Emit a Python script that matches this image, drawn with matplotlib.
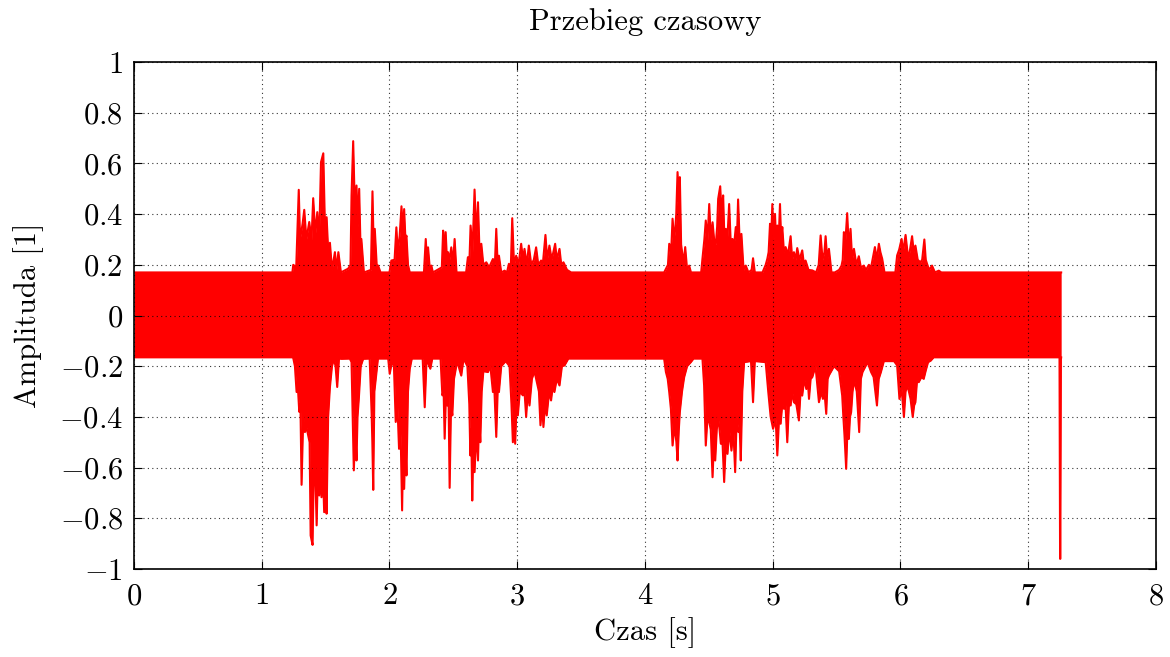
import numpy as np
import matplotlib
matplotlib.use("Agg")
import matplotlib.pyplot as plt
from matplotlib.ticker import FuncFormatter, MultipleLocator

# obwiednia przebiegu (czas [s], amplituda)
tUp = [0.0, 1.24, 1.247, 1.27, 1.29, 1.30, 1.32, 1.333, 1.35, 1.372, 1.39, 1.403, 1.42, 1.435, 1.45,
       1.464, 1.482, 1.495, 1.508, 1.52, 1.534, 1.55, 1.573, 1.585, 1.6, 1.62, 1.677, 1.695, 1.703,
       1.716, 1.73, 1.742, 1.752, 1.763, 1.772, 1.78, 1.80, 1.855, 1.867, 1.877, 1.885, 1.90, 1.911,
       1.93, 2.0, 2.015, 2.04, 2.054, 2.065, 2.08, 2.094, 2.105, 2.115, 2.125, 2.133, 2.145, 2.159,
       2.27, 2.284, 2.293, 2.302, 2.315, 2.328, 2.34, 2.41, 2.42, 2.43, 2.44, 2.45, 2.458, 2.47,
       2.484, 2.497, 2.51, 2.525, 2.60, 2.614, 2.625, 2.635, 2.65, 2.666, 2.68, 2.693, 2.705, 2.719,
       2.735, 2.758, 2.78, 2.81, 2.825, 2.836, 2.847, 2.857, 2.875, 2.901, 2.92, 2.935, 2.95, 2.961,
       2.975, 2.992, 3.01, 3.031, 3.045, 3.057, 3.075, 3.091, 3.11, 3.13, 3.148, 3.165, 3.187, 3.2,
       3.221, 3.235, 3.252, 3.27, 3.297, 3.31, 3.331, 3.345, 3.362, 3.39, 3.422, 4.15, 4.164, 4.18,
       4.19, 4.205, 4.216, 4.228, 4.237, 4.245, 4.255, 4.265, 4.273, 4.283, 4.294, 4.305, 4.315, 4.33,
       4.346, 4.36, 4.44, 4.45, 4.465, 4.476, 4.49, 4.503, 4.515, 4.529, 4.545, 4.555, 4.565, 4.573,
       4.589, 4.600, 4.612, 4.622, 4.633, 4.645, 4.659, 4.672, 4.685, 4.698, 4.711, 4.72, 4.729,
       4.742, 4.755, 4.772, 4.789, 4.81, 4.835, 4.846, 4.86, 4.92, 4.932, 4.945, 4.958, 4.968, 4.979,
       4.988, 4.997, 5.008, 5.018, 5.027, 5.036, 5.047, 5.057, 5.066, 5.075, 5.088, 5.101, 5.12, 5.14,
       5.153, 5.166, 5.18, 5.192, 5.21, 5.231, 5.245, 5.257, 5.28, 5.31, 5.34, 5.36, 5.375, 5.39,
       5.405, 5.414, 5.427, 5.44, 5.46, 5.486, 5.52, 5.539, 5.548, 5.557, 5.57, 5.583, 5.596, 5.609,
       5.622, 5.636, 5.655, 5.674, 5.69, 5.713, 5.73, 5.753, 5.77, 5.8, 5.815, 5.831, 5.843, 5.857,
       5.875, 5.96, 5.974, 5.99, 6.009, 6.02, 6.04, 6.055, 6.066, 6.078, 6.091, 6.104, 6.117, 6.135,
       6.156, 6.17, 6.187, 6.198, 6.208, 6.225, 6.247, 6.27, 6.3, 6.32, 7.258]
vUp = [0.17, 0.17, 0.2, 0.19, 0.496, 0.30, 0.362, 0.417, 0.30, 0.369, 0.30, 0.463, 0.32, 0.408, 0.30,
       0.605, 0.64, 0.35, 0.388, 0.26, 0.287, 0.18, 0.25, 0.18, 0.25, 0.17, 0.185, 0.2, 0.473,
       0.688, 0.40, 0.513, 0.35, 0.5, 0.3, 0.302, 0.17, 0.18, 0.49, 0.25, 0.342, 0.2, 0.197,
       0.17, 0.17, 0.217, 0.22, 0.348, 0.25, 0.315, 0.431, 0.33, 0.42, 0.3, 0.315, 0.2, 0.17,
       0.17, 0.302, 0.22, 0.269, 0.19, 0.197, 0.17, 0.19, 0.335, 0.25, 0.329, 0.22, 0.25, 0.22,
       0.269, 0.2, 0.302, 0.17, 0.17, 0.23, 0.2, 0.355, 0.25, 0.497, 0.3, 0.447, 0.25, 0.283,
       0.2, 0.21, 0.19, 0.223, 0.2, 0.342, 0.2, 0.236, 0.17, 0.177, 0.17, 0.204, 0.19, 0.384,
       0.2, 0.236, 0.2, 0.283, 0.22, 0.263, 0.2, 0.276, 0.2, 0.22, 0.269, 0.2, 0.217, 0.2,
       0.318, 0.22, 0.276, 0.22, 0.283, 0.22, 0.263, 0.2, 0.21, 0.18, 0.17, 0.17, 0.184, 0.2,
       0.283, 0.25, 0.382, 0.3, 0.342, 0.4, 0.566, 0.45, 0.546, 0.28, 0.237, 0.22, 0.27, 0.18,
       0.197, 0.17, 0.17, 0.224, 0.3, 0.375, 0.3, 0.44, 0.3, 0.368, 0.28, 0.283, 0.35, 0.46,
       0.51, 0.4, 0.474, 0.3, 0.342, 0.3, 0.44, 0.28, 0.302, 0.28, 0.349, 0.3, 0.458,
       0.28, 0.322, 0.18, 0.197, 0.17, 0.18, 0.226, 0.17, 0.17, 0.184, 0.2, 0.224, 0.25, 0.362,
       0.3, 0.44, 0.3, 0.401, 0.28, 0.355, 0.3, 0.44, 0.3, 0.349, 0.25, 0.27, 0.24, 0.313,
       0.22, 0.25, 0.22, 0.266, 0.22, 0.257, 0.2, 0.217, 0.18, 0.178, 0.17, 0.2, 0.316, 0.22,
       0.25, 0.313, 0.22, 0.263, 0.17, 0.17, 0.18, 0.197, 0.22, 0.329, 0.3, 0.404, 0.26, 0.342,
       0.22, 0.263, 0.2, 0.234, 0.19, 0.197, 0.18, 0.2, 0.19, 0.27, 0.22, 0.283, 0.25, 0.224,
       0.17, 0.17, 0.237, 0.26, 0.302, 0.25, 0.318, 0.25, 0.23, 0.27, 0.313, 0.25, 0.276, 0.22,
       0.21, 0.22, 0.3, 0.22, 0.204, 0.18, 0.197, 0.17, 0.177, 0.17, 0.17]

tLo = [0.0, 1.24, 1.247, 1.26, 1.273, 1.285, 1.294, 1.303, 1.312, 1.325, 1.338, 1.35, 1.364, 1.375,
       1.383, 1.398, 1.408, 1.416, 1.43, 1.44, 1.45, 1.458, 1.468, 1.478, 1.489, 1.5, 1.508, 1.52,
       1.534, 1.55, 1.565, 1.578, 1.591, 1.605, 1.625, 1.69, 1.703, 1.712, 1.721, 1.732, 1.742, 1.75,
       1.76, 1.775, 1.794, 1.845, 1.86, 1.866, 1.873, 1.882, 1.893, 1.91, 1.99, 2.002, 2.02, 2.035,
       2.049, 2.062, 2.075, 2.087, 2.099, 2.107, 2.115, 2.124, 2.133, 2.145, 2.159, 2.175, 2.26,
       2.276, 2.29, 2.305, 2.32, 2.335, 2.40, 2.414, 2.424, 2.432, 2.443, 2.453, 2.462, 2.471, 2.482,
       2.492, 2.505, 2.53, 2.562, 2.58, 2.61, 2.625, 2.633, 2.64, 2.648, 2.657, 2.666, 2.68, 2.693,
       2.702, 2.711, 2.722, 2.735, 2.771, 2.79, 2.81, 2.822, 2.836, 2.847, 2.857, 2.875, 2.91, 2.94,
       2.955, 2.966, 2.975, 2.984, 2.995, 3.005, 3.02, 3.044, 3.057, 3.07, 3.083, 3.096, 3.115,
       3.135, 3.156, 3.17, 3.182, 3.195, 3.205, 3.218, 3.231, 3.25, 3.265, 3.278, 3.291, 3.31, 3.331,
       3.35, 3.37, 3.40, 4.15, 4.164, 4.178, 4.19, 4.203, 4.216, 4.228, 4.237, 4.246, 4.255, 4.265,
       4.273, 4.29, 4.307, 4.33, 4.359, 4.38, 4.45, 4.463, 4.476, 4.49, 4.503, 4.515, 4.529, 4.54,
       4.55, 4.562, 4.573, 4.584, 4.594, 4.607, 4.620, 4.633, 4.646, 4.66, 4.677, 4.692, 4.706,
       4.718, 4.732, 4.742, 4.75, 4.762, 4.776, 4.83, 4.846, 4.86, 4.945, 4.965, 4.984, 5.003, 5.023,
       5.036, 5.05, 5.062, 5.075, 5.088, 5.1, 5.114, 5.127, 5.14, 5.153, 5.166, 5.185, 5.205, 5.218,
       5.231, 5.247, 5.263, 5.274, 5.284, 5.297, 5.31, 5.335, 5.362, 5.38, 5.393, 5.405, 5.419, 5.43,
       5.44, 5.48, 5.52, 5.544, 5.553, 5.562, 5.575, 5.585, 5.596, 5.605, 5.614, 5.625, 5.638, 5.658,
       5.677, 5.69, 5.703, 5.743, 5.77, 5.79, 5.803, 5.816, 5.83, 5.847, 5.87, 5.95, 5.974, 5.992,
       6.009, 6.027, 6.04, 6.053, 6.066, 6.079, 6.096, 6.107, 6.117, 6.13, 6.143, 6.164, 6.182,
       6.198, 6.216, 6.237, 6.26, 7.245, 7.2495, 7.2515, 7.256, 7.258]
vLo = [-0.165, -0.165, -0.168, -0.2, -0.302, -0.3, -0.38, -0.35, -0.668, -0.4, -0.46, -0.44, -0.473, -0.5,
       -0.868, -0.905, -0.6, -0.552, -0.828, -0.6, -0.71, -0.6, -0.717, -0.6, -0.776, -0.6, -0.782, -0.4,
       -0.282, -0.2, -0.171, -0.2, -0.282, -0.17, -0.171, -0.17, -0.184, -0.4, -0.611, -0.45, -0.572, -0.4,
       -0.329, -0.2, -0.171, -0.17, -0.38, -0.5, -0.688, -0.3, -0.25, -0.17, -0.17, -0.23, -0.18, -0.2,
       -0.42, -0.35, -0.526, -0.45, -0.769, -0.5, -0.684, -0.5, -0.631, -0.3, -0.21, -0.17, -0.17,
       -0.362, -0.18, -0.19, -0.21, -0.17, -0.17, -0.315, -0.3, -0.486, -0.3, -0.355, -0.3, -0.68, -0.35,
       -0.394, -0.25, -0.18, -0.237, -0.17, -0.2, -0.35, -0.552, -0.45, -0.73, -0.5, -0.618, -0.45, -0.572,
       -0.4, -0.5, -0.3, -0.22, -0.223, -0.2, -0.302, -0.3, -0.479, -0.3, -0.302, -0.2, -0.18, -0.2,
       -0.35, -0.5, -0.4, -0.506, -0.35, -0.394, -0.3, -0.315, -0.3, -0.4, -0.3, -0.355, -0.25,
       -0.22, -0.269, -0.3, -0.433, -0.35, -0.44, -0.35, -0.394, -0.3, -0.335, -0.28, -0.302, -0.25, -0.276,
       -0.2, -0.197, -0.17, -0.17, -0.223, -0.25, -0.302, -0.368, -0.513, -0.45, -0.46, -0.5, -0.572, -0.45,
       -0.381, -0.3, -0.243, -0.2, -0.184, -0.17, -0.17, -0.276, -0.513, -0.4, -0.42, -0.45, -0.638, -0.5,
       -0.572, -0.45, -0.4, -0.45, -0.506, -0.5, -0.657, -0.5, -0.546, -0.45, -0.533, -0.45, -0.618,
       -0.4, -0.46, -0.45, -0.572, -0.3, -0.184, -0.18, -0.342, -0.18, -0.184, -0.3, -0.4, -0.447, -0.408,
       -0.552, -0.4, -0.427, -0.35, -0.368, -0.35, -0.5, -0.35, -0.355, -0.3, -0.342, -0.35, -0.414, -0.3,
       -0.316, -0.25, -0.29, -0.25, -0.329, -0.25, -0.243, -0.2, -0.342, -0.3, -0.329, -0.3, -0.388, -0.25,
       -0.236, -0.2, -0.22, -0.316, -0.4, -0.474, -0.605, -0.45, -0.487, -0.4, -0.381, -0.3, -0.256, -0.3,
       -0.46, -0.25, -0.223, -0.184, -0.223, -0.243, -0.3, -0.355, -0.25, -0.223, -0.18, -0.18, -0.197, -0.329,
       -0.29, -0.4, -0.3, -0.276, -0.3, -0.329, -0.4, -0.355, -0.342, -0.256, -0.263, -0.243, -0.25,
       -0.217, -0.184, -0.178, -0.165, -0.165, -0.96, -0.96, -0.165, -0.165]

xTicks = [0, 1, 2, 3, 4, 5, 6, 7, 8]
yTicks = [-1, -0.8, -0.6, -0.4, -0.2, 0, 0.2, 0.4, 0.6, 0.8, 1]

plt.rcParams['font.family'] = ['cmr10', 'DejaVu Serif']
plt.rcParams['mathtext.fontset'] = 'cm'
plt.rcParams['axes.unicode_minus'] = True

fig = plt.figure(figsize=(11.7, 6.57), dpi=100)
ax = fig.add_axes([0.1145, 0.134, 0.8735, 0.7715])

ax.fill_between(tUp, 0, vUp, color='#ff0000', linewidth=0)
ax.plot(tUp, vUp, color='#ff0000', linewidth=1.5)
ax.fill_between(tLo, vLo, 0, color='#ff0000', linewidth=0)
ax.plot(tLo, vLo, color='#ff0000', linewidth=1.5)

ax.set_xlim(0, 8)
ax.set_ylim(-1, 1)
ax.set_xticks(xTicks)
ax.set_yticks(yTicks)
fmt = FuncFormatter(lambda v, _: '$%g$' % round(v, 2))
ax.xaxis.set_major_formatter(fmt)
ax.yaxis.set_major_formatter(fmt)
ax.tick_params(direction='in', length=6, width=0.8, labelsize=22, top=True, right=True)
ax.tick_params(axis='x', pad=10)
ax.tick_params(axis='y', pad=8)
ax.grid(True, color='black', linestyle=(0, (1, 3)), linewidth=0.8, alpha=0.8)
for s in ax.spines.values():
    s.set_linewidth(1.2)

ax.set_title("Przebieg czasowy", fontsize=22, pad=23)
ax.set_xlabel("Czas [s]", fontsize=22, labelpad=5)
ax.set_ylabel("Amplituda [1]", fontsize=22, labelpad=11)

plt.savefig("out.png", dpi=100)
